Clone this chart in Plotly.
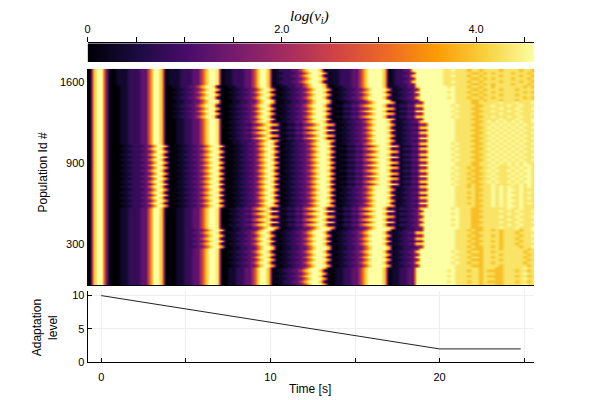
import plotly.graph_objects as go

# rate levels for the characters used in the rows below
level_values = [0, 0.35, 0.8, 1.25, 1.8, 2.4, 3.1, 3.9, 4.3, 4.6]

# population rates: a lagging and a leading tooth row per band, bottom band first
row_profiles = [
    "07994 0001122233 6997 000112233 57998 00112233 57997 00112233 579997 00112233 5799997 0112233 999999999988 888878 887788 888988",
    "07994 0001122233 6997 000112233 57998 00112233 57997 0112233 579997 000112233 5799997 0112233 999999998988 878878 777788 878878",
    "07994 0001122233 6997 000112233 57998 000112233 57997 00112233 579997 00112233 5799997 0112233 99999999988 887778 888788 888878",
    "07994 0001122233 6997 000112233 57998 00112233 57997 00112233 579997 00112233 5799997 0112233 999999999898 878878 878888 888788",
    "07994 0001122233 6997 0001122233 57998 00112233 57997 00112233 579997 00112233 5799997 01122233 9999999988 878778 878788 887889",
    "07994 0001122233 6997 000112233 57998 00112233 57997 00112233 579997 00112233 5799997 0112233 999999999988 887788 888788 878888",
    "07994 0001122233 6997 000112233 57998 0001122233 57997 00112233 579997 00112233 5799997 0112233 9999999998 887778 888988 898889",
    "07994 0001122233 6997 000112233 57998 00112233 57997 00112233 579997 00112233 5799997 01122233 99999999898 887788 888889 889888",
    "07994 00001122233 6997 000112233 57998 000112233 57997 00112233 579997 00112233 5799997 01122233 999999988 888778 898989 989888",
    "07994 0001122233 6997 000112233 57998 000112233 57997 00112233 579997 00112233 5799997 0112233 99999999988 878788 898989 889898",
    "07994 00001122233 6997 000112233 57998 000112233 57997 00112233 579997 000112233 5799997 0112233 999999898 878778 898888 989898",
    "07994 0001122233 6997 000112233 57998 000112233 57997 00112233 579997 00112233 5799997 0112233 99999999988 887788 989889 898998",
    "07994 00001122233 6997 000112233 57998 000112233 57997 00112233 579997 000112233 5799997 0112233 999999988 887788 898989 898988",
    "07994 0001122233 6997 000112233 57998 000112233 57997 00112233 579997 00112233 5799997 0112233 99999999898 888778 989898 989889",
    "07994 0001122233 6997 000112233 57998 0001122233 57997 00112233 579997 00112233 5799997 01122233 999999988 887788 898989 898988",
    "07994 0001122233 6997 000112233 57998 00112233 57997 00112233 579997 000112233 5799997 0112233 99999999988 888778 989898 989889",
    "07994 0001122233 6997 000112233 57998 000112233 57997 00112233 579997 000112233 5799997 0112233 9999999988 887788 888988 898889",
    "07994 0001122233 6997 00112233 57998 000112233 57997 00112233 579997 00112233 5799997 0112233 999999999898 888778 898889 889888",
    "07994 0001122233 6997 000112233 57998 000112233 57997 00112233 579997 00112233 5799997 0112233 99999999988 887787 888788 878888",
    "07994 0001122233 6997 00112233 57998 000112233 57997 00112233 579997 00112233 5799997 0112233 999999998988 878878 878888 888787",
    "07994 0011122233 6997 011122233 57998 01122233 57997 01122233 579997 01122233 5799997 0122233 999999988888 887787 878888 788878",
    "07994 0011122233 6997 011122233 57998 01122233 57997 0122233 579997 011122233 5799997 012233 9999999988988 878878 888788 887887",
]

# which profile each population row uses, bottom to top
row_order = [
    0, 1, 0, 1, 0, 1, 0,
    2, 3, 2, 3, 2, 3, 2,
    4, 5, 4, 5, 4, 5, 4,
    6, 7, 6, 7, 6, 7, 6, 7,
    8, 9, 8, 9, 8, 9, 8, 9,
    10, 11, 10, 11, 10, 11, 10, 11,
    12, 13, 12, 13, 12, 13, 12, 13,
    14, 15, 14, 15, 14, 15, 14, 15,
    16, 17, 16, 17, 16, 17, 16,
    18, 19, 18, 19, 18, 19,
    20, 21, 20, 21, 20, 21,
]

# colour bar samples
bar_levels = [0, 0.2, 0.4, 0.6, 0.8, 1.0, 1.2, 1.4, 1.6, 1.8, 2.0, 2.2,
              2.4, 2.6, 2.8, 3.0, 3.2, 3.4, 3.6, 3.8, 4.0, 4.2, 4.4, 4.6]
bar_tickvals = [0, 0.5, 1.0, 1.5, 2.0, 2.5, 3.0, 3.5, 4.0, 4.5]
bar_ticktext = ["0", "", "", "", "2.0", "", "", "", "4.0", ""]

pop_tickvals = [15.2, 45.2, 75.2]
pop_ticktext = ["300", "900", "1600"]

# adaptation level over time
time_s = [0, 20, 24.8]
adaptation = [10, 2, 2]
time_tickvals = [0, 5, 10, 15, 20, 25]
time_ticktext = ["0", "", "10", "", "20", ""]

x_range = [-0.81, 25.6]
bin_width = (x_range[1] - x_range[0]) / 112

for row in row_profiles:
    assert len(row.replace(" ", "")) == 112, row
rows = [row_profiles[i].replace(" ", "") for i in row_order]
z = [[level_values[int(c)] for c in row] for row in rows]

FIG_W = 580
FIG_H = 396


# figure pixels start about 10px in from the page corner
def px_x(p):
    return (p - 10) / FIG_W


def px_y(p):
    return 1 - (p - 10) / FIG_H


panel_x = [px_x(87), px_x(536)]

fig = go.Figure()
fig.add_trace(go.Heatmap(
    z=[bar_levels, bar_levels], x=bar_levels, y=[0, 1],
    colorscale="Inferno", zmin=0, zmax=4.6, zsmooth="best", showscale=False,
    xaxis="x3", yaxis="y3", hoverinfo="skip",
))
fig.add_trace(go.Heatmap(
    z=z, x0=x_range[0] + bin_width / 2, dx=bin_width, y0=0.5, dy=1,
    colorscale="Inferno", zmin=0, zmax=4.6, zsmooth="best", showscale=False,
    xaxis="x2", yaxis="y2", hoverinfo="skip",
))
fig.add_trace(go.Scatter(
    x=time_s, y=adaptation, mode="lines",
    line=dict(color="#222222", width=1), showlegend=False,
))

fig.update_layout(
    width=FIG_W, height=FIG_H,
    margin=dict(l=0, r=0, t=0, b=0),
    paper_bgcolor="white", plot_bgcolor="white",
    font=dict(family="Liberation Sans", size=11, color="black"),
    showlegend=False,
    xaxis=dict(
        domain=panel_x, range=x_range, anchor="y",
        tickvals=time_tickvals, ticktext=time_ticktext, ticks="inside", ticklen=4,
        ticklabelstandoff=5,
        tickcolor="black", showline=True, linecolor="black", linewidth=1,
        showgrid=True, gridcolor="#eeeeee", zeroline=False,
    ),
    yaxis=dict(
        domain=[px_y(369.5), px_y(297)], range=[0, 10.66], anchor="x",
        tickvals=[0, 5, 10], ticks="inside", ticklen=4, tickcolor="black",
        showline=True, linecolor="black", linewidth=1,
        showgrid=True, gridcolor="#eeeeee", zeroline=False,
    ),
    xaxis2=dict(
        domain=panel_x, range=x_range, anchor="y2",
        showticklabels=False, ticks="", showgrid=False, zeroline=False,
        showline=True, linecolor="black", linewidth=1,
    ),
    yaxis2=dict(
        domain=[px_y(291), px_y(70)], range=[0, 80], anchor="x2",
        tickvals=pop_tickvals, ticktext=pop_ticktext, ticks="", showgrid=False,
        zeroline=False, showline=True, linecolor="black", linewidth=1,
    ),
    xaxis3=dict(
        domain=panel_x, range=[0, 4.6], anchor="y3", side="top",
        tickvals=bar_tickvals, ticktext=bar_ticktext, ticks="outside", ticklen=5,
        tickcolor="black", showline=True, linecolor="black", linewidth=1,
        showgrid=False, zeroline=False,
    ),
    yaxis3=dict(
        domain=[px_y(63), px_y(44)], range=[0, 1], anchor="x3",
        showticklabels=False, ticks="", showgrid=False, zeroline=False,
    ),
    annotations=[
        dict(text="<i>log(ν<sub>i</sub>)</i>", x=px_x(310), y=px_y(17), xref="paper", yref="paper",
             xanchor="center", yanchor="middle", showarrow=False,
             font=dict(family="Liberation Serif", size=15)),
        dict(text="Population Id #", x=px_x(42), y=px_y(176), xref="paper", yref="paper",
             xanchor="center", yanchor="middle", textangle=-90, showarrow=False, font=dict(size=12)),
        dict(text="Adaptation<br>level", x=px_x(45), y=px_y(334), xref="paper", yref="paper",
             xanchor="center", yanchor="middle", textangle=-90, showarrow=False, font=dict(size=12)),
        dict(text="Time [s]", x=px_x(311), y=px_y(397), xref="paper", yref="paper",
             xanchor="center", yanchor="middle", showarrow=False, font=dict(size=12)),
    ],
)

fig.write_html("out.html")
